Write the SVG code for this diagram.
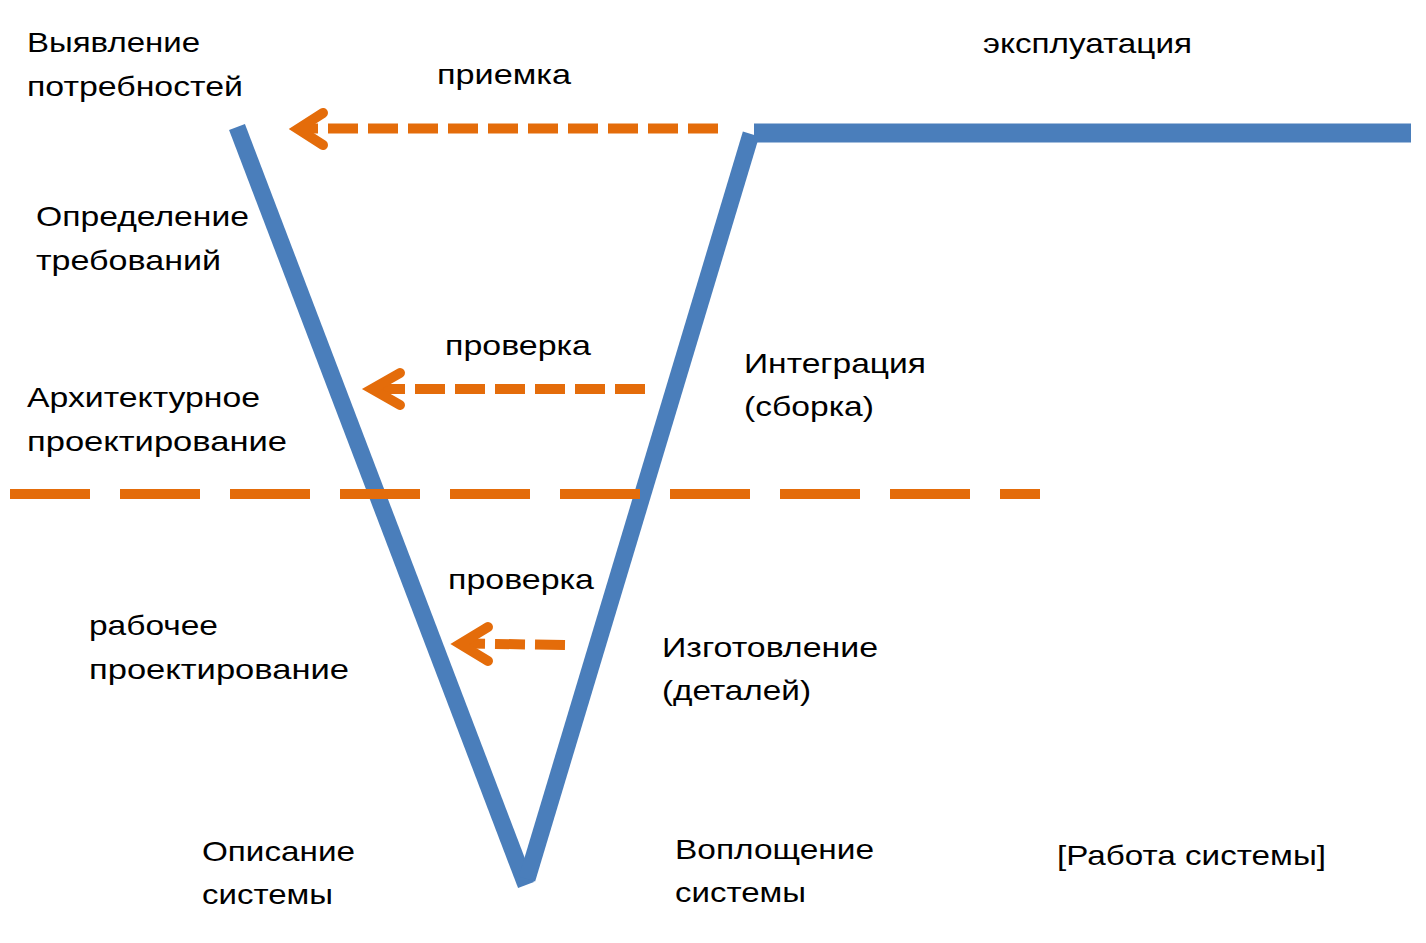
<svg xmlns="http://www.w3.org/2000/svg" width="1426" height="943" viewBox="0 0 1426 943">
<defs>
<style>
.t{font-family:"Liberation Sans",Arial,sans-serif;font-size:28px;fill:#000}
.v{stroke:#4A7EBB;fill:none;stroke-linecap:butt}
.o{stroke:#E46C0A;fill:none;stroke-width:10;stroke-linecap:butt}
.ah{stroke:#E46C0A;fill:none;stroke-width:10;stroke-linecap:round;stroke-linejoin:miter;stroke-miterlimit:10}
</style>
</defs>
<rect width="1426" height="943" fill="#fff"/>
<g id="connectors">
<line class="v" x1="237" y1="127" x2="526" y2="885" stroke-width="17"/>
<line class="v" x1="527" y1="879" x2="751" y2="134" stroke-width="17"/>
<line class="v" x1="754" y1="133" x2="1411" y2="133" stroke-width="19"/>
<line class="o" x1="718" y1="128.5" x2="305" y2="128.5" stroke-dasharray="30 10"/>
<polyline class="ah" points="323,113 298,129 323,145"/>
<line class="o" x1="645" y1="389" x2="380" y2="389" stroke-dasharray="30 10"/>
<polyline class="ah" points="400,373 372,389 400,405"/>
<line class="o" x1="565" y1="645" x2="468" y2="643.5" stroke-dasharray="30 10"/>
<polyline class="ah" points="488,627 460,644 488,661"/>
<line class="o" x1="10" y1="494" x2="1040" y2="494" stroke-dasharray="80 30"/>
</g>
<g id="node-needs"><text class="t" x="27" y="52" textLength="173" lengthAdjust="spacingAndGlyphs">Выявление</text><text class="t" x="27" y="96" textLength="216" lengthAdjust="spacingAndGlyphs">потребностей</text></g>
<g id="node-acceptance"><text class="t" x="437" y="84" textLength="134" lengthAdjust="spacingAndGlyphs">приемка</text></g>
<g id="node-operation"><text class="t" x="983" y="53" textLength="209" lengthAdjust="spacingAndGlyphs">эксплуатация</text></g>
<g id="node-requirements"><text class="t" x="36" y="226" textLength="213" lengthAdjust="spacingAndGlyphs">Определение</text><text class="t" x="36" y="270" textLength="185" lengthAdjust="spacingAndGlyphs">требований</text></g>
<g id="node-check1"><text class="t" x="445" y="355" textLength="146" lengthAdjust="spacingAndGlyphs">проверка</text></g>
<g id="node-integration"><text class="t" x="744" y="373" textLength="182" lengthAdjust="spacingAndGlyphs">Интеграция</text><text class="t" x="744" y="416" textLength="130" lengthAdjust="spacingAndGlyphs">(сборка)</text></g>
<g id="node-architecture"><text class="t" x="27" y="407" textLength="233" lengthAdjust="spacingAndGlyphs">Архитектурное</text><text class="t" x="27" y="451" textLength="260" lengthAdjust="spacingAndGlyphs">проектирование</text></g>
<g id="node-check2"><text class="t" x="448" y="589" textLength="146" lengthAdjust="spacingAndGlyphs">проверка</text></g>
<g id="node-detailed"><text class="t" x="89" y="635" textLength="129" lengthAdjust="spacingAndGlyphs">рабочее</text><text class="t" x="89" y="679" textLength="260" lengthAdjust="spacingAndGlyphs">проектирование</text></g>
<g id="node-manufacture"><text class="t" x="662" y="657" textLength="216" lengthAdjust="spacingAndGlyphs">Изготовление</text><text class="t" x="662" y="700" textLength="149" lengthAdjust="spacingAndGlyphs">(деталей)</text></g>
<g id="node-description"><text class="t" x="202" y="861" textLength="153" lengthAdjust="spacingAndGlyphs">Описание</text><text class="t" x="202" y="904" textLength="131" lengthAdjust="spacingAndGlyphs">системы</text></g>
<g id="node-embodiment"><text class="t" x="675" y="859" textLength="199" lengthAdjust="spacingAndGlyphs">Воплощение</text><text class="t" x="675" y="902" textLength="131" lengthAdjust="spacingAndGlyphs">системы</text></g>
<g id="node-work"><text class="t" x="1057" y="865" textLength="269" lengthAdjust="spacingAndGlyphs">[Работа системы]</text></g>
</svg>
